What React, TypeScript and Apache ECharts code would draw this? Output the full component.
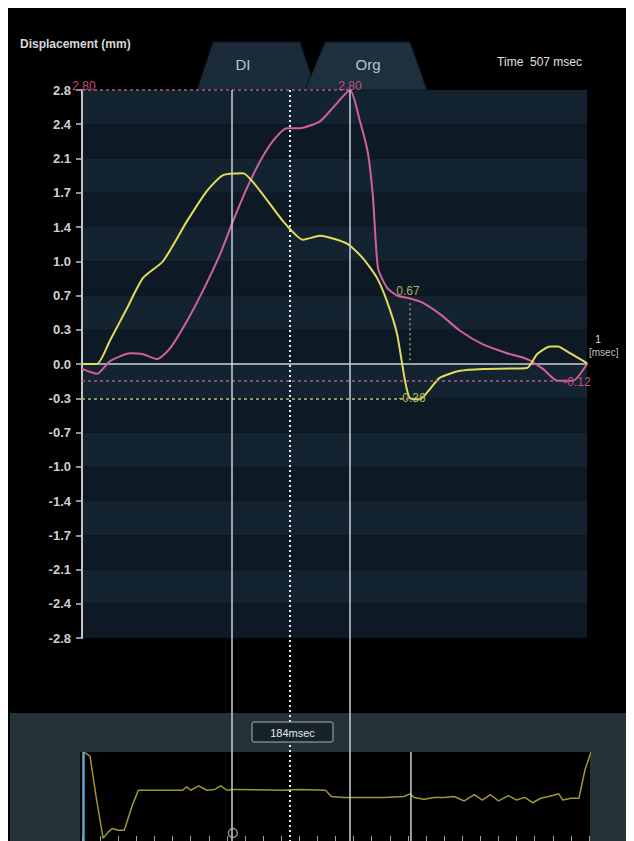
import React, { useEffect, useRef } from "react";
import * as echarts from "echarts";

// ---- data ----
const yTickLabels = ["-2.8","-2.4","-2.1","-1.7","-1.4","-1.0","-0.7","-0.3","0.0","0.3","0.7","1.0","1.4","1.7","2.1","2.4","2.8"];

const orgTimes = [0,15,28,48,61,75,88,105,121,138,151,165,178,191,205,218,238,251,268,278,286,291,296,305,315,328,340,358,378,401,425,445,461,475,491,505];
const orgValues = [-0.05,-0.10,0.03,0.11,0.10,0.05,0.16,0.44,0.75,1.12,1.46,1.80,2.07,2.28,2.41,2.41,2.48,2.62,2.80,2.48,2.15,1.70,0.98,0.78,0.70,0.67,0.63,0.51,0.34,0.20,0.11,0.05,-0.05,-0.17,-0.17,0.0];

const dlTimes = [0,15,28,45,61,81,105,125,141,161,178,201,221,238,265,281,295,305,315,323,328,338,346,358,378,401,445,455,468,476,488,505];
const dlValues = [0,0,0.24,0.57,0.88,1.05,1.46,1.77,1.93,1.95,1.77,1.46,1.27,1.31,1.23,1.08,0.88,0.64,0.31,-0.17,-0.35,-0.36,-0.28,-0.14,-0.07,-0.05,-0.04,0.10,0.18,0.18,0.11,0.01];

const miniTimes = [2,8,14,21,26,30,36,42,50,56,60,100,104,108,116,124,132,138,144,150,200,215,242,248,260,300,320,326,330,340,350,360,370,380,390,398,406,414,424,432,440,448,456,464,474,478,486,494,500,506];
const miniValues = [100,95,50,3,10,14,12,12,40,57,57,57,61,57,62,57,58,62,57,58,57,58,57,50,49,49,50,53,49,47,49,49,50,45,52,46,52,45,51,46,49,43,48,50,53,46,48,48,80,100];

const orgPeak = { t: 268, v: 2.8, label: "2.80" };
const orgMin = { t: 475, v: -0.17, label: "-0.12" };
const orgMark = { t: 328, v: 0.67, label: "0.67" };
const dlMin = { t: 328, v: -0.35, label: "-0.36" };

const markerTimes = [150, 208, 268];
const markerDotted = [false, true, false];
const miniMarkerTime = 327;
const miniCursor = { t: 150, v: 9 };

const PINK = "#d2609e";
const YELLOW = "#e2dc5a";

export default function App() {
  const ref = useRef<HTMLDivElement>(null);
  useEffect(() => {
    if (!ref.current) return;
    const chart = echarts.init(ref.current, null, { renderer: "svg" });
    const font = "Liberation Sans";
    const pinkData = orgTimes.map((t, i) => [t, orgValues[i]]);
    const dlData = dlTimes.map((t, i) => [t, dlValues[i]]);
    const miniData = miniTimes.map((t, i) => [t, miniValues[i]]);

    const lbl = (coord: number[], text: string, color: string, offset: number[]) => ({
      coord,
      symbol: "circle",
      symbolSize: 1,
      itemStyle: { color: "rgba(0,0,0,0)" },
      label: { show: true, formatter: text, color, fontSize: 12, fontFamily: font, position: "inside", offset },
    });

    const option: any = {
      animation: false,
      backgroundColor: "#000",
      grid: [
        { left: 74, width: 505, top: 82, height: 548 },
        { left: 74, width: 507, top: 744, height: 89 },
      ],
      xAxis: [
        {
          gridIndex: 0, type: "value", min: 0, max: 505,
          axisLine: { show: true, onZero: true, lineStyle: { color: "#9aa4ad", width: 2 } },
          axisTick: { show: false }, axisLabel: { show: false }, splitLine: { show: false },
        },
        {
          gridIndex: 1, type: "value", min: 0, max: 504, interval: 18,
          axisLine: { show: false },
          axisTick: { show: true, inside: true, length: 5, lineStyle: { color: "#a0a0a0" } },
          axisLabel: { show: false }, splitLine: { show: false },
        },
      ],
      yAxis: [
        {
          gridIndex: 0, type: "value", min: -2.8, max: 2.8, interval: 0.35,
          axisLine: { show: true, lineStyle: { color: "#c0c4c8", width: 2 } },
          axisTick: { show: true, length: 6, lineStyle: { color: "#c0c4c8", width: 1.5 } },
          axisLabel: {
            color: "#d0d0d0", fontSize: 13, fontFamily: font, fontWeight: "bold", margin: 11,
            formatter: (v: number) => yTickLabels[Math.round((v + 2.8) / 0.35)] ?? "",
          },
          splitLine: { show: false },
          splitArea: { show: true, areaStyle: { color: ["#0d1a26", "#132330"] } },
        },
        {
          gridIndex: 1, type: "value", min: 0, max: 100, show: false,
        },
      ],
      series: [
        {
          type: "line", xAxisIndex: 0, yAxisIndex: 0, data: pinkData, smooth: 0.2,
          showSymbol: false, lineStyle: { color: PINK, width: 2 }, z: 3,
          markLine: {
            silent: true, symbol: "none", label: { show: false },
            data: [
              [{ coord: [0, orgPeak.v] }, { coord: [orgPeak.t, orgPeak.v] }],
              [{ coord: [0, orgMin.v] }, { coord: [orgMin.t, orgMin.v] }],
              [{ coord: [orgMark.t, orgMark.v - 0.05], lineStyle: { color: "#9aa060", type: [2, 3], width: 1.5 } }, { coord: [orgMark.t, 0] }],
            ],
            lineStyle: { color: "#b05a88", type: [3, 3], width: 1.5 },
          },
          markPoint: {
            silent: true,
            data: [
              lbl([0, orgPeak.v], orgPeak.label, "#c8507e", [2, -4]),
              lbl([orgPeak.t, orgPeak.v], orgPeak.label, "#c8507e", [0, -4]),
              lbl([orgMark.t, orgMark.v], orgMark.label, "#a8ae62", [-2, -7]),
              lbl([orgMin.t + 20, orgMin.v], orgMin.label, "#c8507e", [0, 1]),
            ],
          },
        },
        {
          type: "line", xAxisIndex: 0, yAxisIndex: 0, data: dlData, smooth: 0.2,
          showSymbol: false, lineStyle: { color: YELLOW, width: 2 }, z: 4,
          markLine: {
            silent: true, symbol: "none", label: { show: false },
            data: [[{ coord: [0, dlMin.v] }, { coord: [dlMin.t - 3, dlMin.v] }]],
            lineStyle: { color: "#c0c070", type: [3, 3], width: 1.5 },
          },
          markPoint: {
            silent: true,
            data: [lbl([dlMin.t, dlMin.v], dlMin.label, "#b8b860", [2, 0])],
          },
        },
        {
          type: "line", xAxisIndex: 1, yAxisIndex: 1, data: miniData,
          showSymbol: false, lineStyle: { color: "#a09838", width: 1.5 }, z: 3,
          markLine: {
            silent: true, symbol: "none", label: { show: false },
            data: [
              { xAxis: 1, lineStyle: { color: "#5aa8d0", width: 2.5, type: "solid" } },
              { xAxis: 506, lineStyle: { color: "#d0905a", width: 2.5, type: "solid" } },
            ],
          },
        },
        {
          type: "scatter", xAxisIndex: 1, yAxisIndex: 1, data: [[miniCursor.t, miniCursor.v]],
          symbol: "circle", symbolSize: 9, z: 6,
          itemStyle: { color: "rgba(0,0,0,0)", borderColor: "#b0b0b0", borderWidth: 1.5 },
        },
      ],
    };
    chart.setOption(option);

    const graphics: any[] = [
      // bottom panel
      { type: "rect", shape: { x: 2, y: 705, width: 624, height: 128 }, style: { fill: "#233336" }, z: -20 },
      { type: "rect", shape: { x: 72, y: 744, width: 510, height: 89 }, style: { fill: "#000" }, z: -19 },
      // tabs
      { type: "polygon", shape: { points: [[189, 82], [205, 34], [292, 34], [308, 82]] }, style: { fill: "#1b2b39", stroke: "#0a1420", lineWidth: 1 }, z: 1 },
      { type: "polygon", shape: { points: [[297, 82], [317, 34], [402, 34], [419, 82]] }, style: { fill: "#1e2f3d", stroke: "#0a1420", lineWidth: 1 }, z: 1 },
      { type: "text", x: 235, y: 56, style: { text: "DI", fill: "#b8c4d0", font: `15px ${font}`, align: "center", verticalAlign: "middle" }, z: 2 },
      { type: "text", x: 360, y: 56, style: { text: "Org", fill: "#b8c4d0", font: `15px ${font}`, align: "center", verticalAlign: "middle" }, z: 2 },
      { type: "text", x: 12, y: 36, style: { text: "Displacement (mm)", fill: "#d8d8d8", font: `bold 12px ${font}`, align: "left", verticalAlign: "middle" } },
      { type: "text", x: 574, y: 54, style: { text: "Time  507 msec", fill: "#e0e0e0", font: `12px ${font}`, align: "right", verticalAlign: "middle" } },
      { type: "text", x: 590, y: 331, style: { text: "1", fill: "#d0d0d0", font: `11px ${font}`, align: "center", verticalAlign: "middle" } },
      { type: "text", x: 581, y: 344, style: { text: "[msec]", fill: "#c0c0c0", font: `10px ${font}`, align: "left", verticalAlign: "middle" } },
    ];

    markerTimes.forEach((t, i) => {
      const p = chart.convertToPixel({ gridIndex: 0 }, [t, 0]) as number[];
      graphics.push({
        type: "line",
        shape: { x1: p[0], y1: 82, x2: p[0], y2: 833 },
        style: markerDotted[i]
          ? { stroke: "#e8eef4", lineWidth: 2, lineDash: [2, 3] }
          : { stroke: "#c8d0d8", lineWidth: 1.5 },
        z: 10,
      });
    });
    const pm = chart.convertToPixel({ gridIndex: 1 }, [miniMarkerTime, 0]) as number[];
    graphics.push({ type: "line", shape: { x1: pm[0], y1: 744, x2: pm[0], y2: 833 }, style: { stroke: "#c8d0d8", lineWidth: 1.5 }, z: 10 });

    // 184msec label box
    graphics.push({ type: "rect", shape: { x: 244, y: 714, width: 81, height: 20, r: 2 }, style: { fill: "#16242a", stroke: "#a8b0b8", lineWidth: 1 }, z: 12 });
    graphics.push({ type: "text", x: 284.5, y: 724.5, style: { text: "184msec", fill: "#e8e8e8", font: `11px ${font}`, align: "center", verticalAlign: "middle" }, z: 13 });

    chart.setOption({ graphic: graphics });
    return () => chart.dispose();
  }, []);
  return <div ref={ref} style={{ width: 626, height: 833, background: "#000" }} />;
}
